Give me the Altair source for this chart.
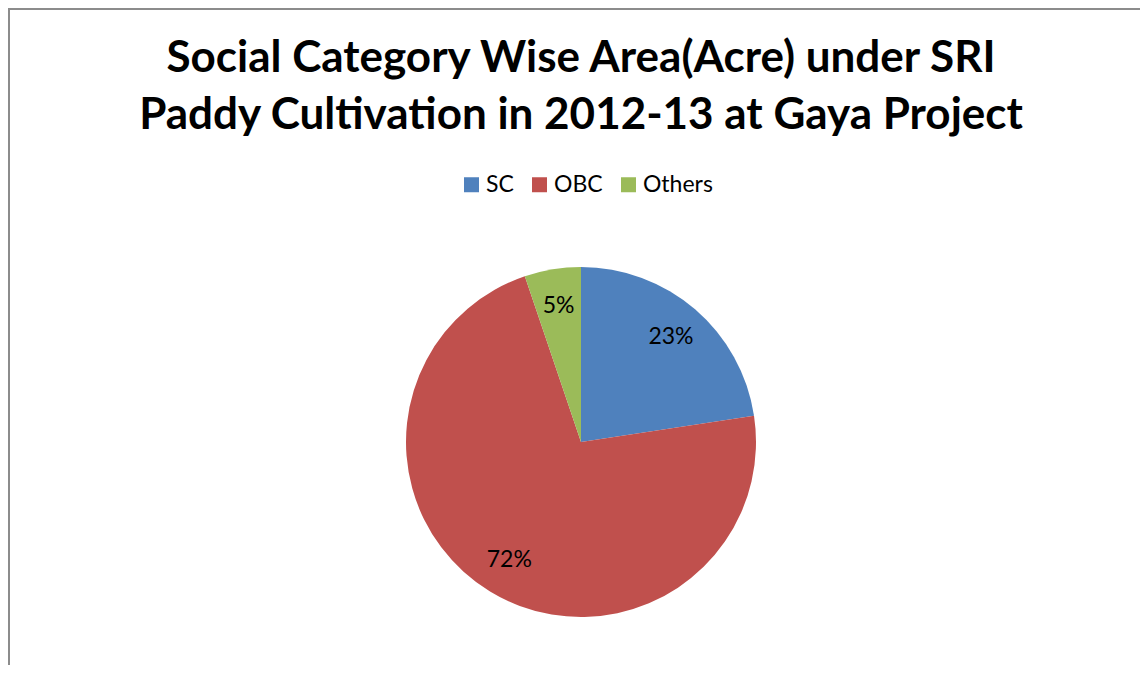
import altair as alt
import pandas as pd

categories = ["SC", "OBC", "Others"]
shares = [22.6, 72.2, 5.2]
labels = ["23%", "72%", "5%"]
colors = ["#4F81BD", "#C0504D", "#9BBB59"]
order = [0, 1, 2]

title_lines = [
    "Social Category Wise Area(Acre) under SRI",
    "Paddy Cultivation in 2012-13 at Gaya Project",
]

df = pd.DataFrame({"category": categories, "share": shares, "label": labels, "order": order})

T = 140
W = 1132
H = 657 - T
cx = 581 - 8
cy = 442 - 8 - T
R = 175

base = alt.Chart(df).encode(
    theta=alt.Theta("share:Q", stack=True),
    order=alt.Order("order:Q"),
)

pie = base.mark_arc(outerRadius=R).encode(
    color=alt.Color(
        "category:N",
        scale=alt.Scale(domain=categories, range=colors),
        legend=alt.Legend(
            orient="none",
            legendX=452,
            legendY=25,
            direction="horizontal",
            title=None,
            symbolType="square",
            symbolSize=225,
            symbolStrokeWidth=0,
            labelFontSize=23,
            labelFont="Lato",
            labelColor="#000000",
            labelOffset=3,
            columnPadding=14,
        ),
    ),
    x=alt.value(cx),
    y=alt.value(cy),
)

text = base.mark_text(radius=138, fontSize=23, font="Lato", color="#000000").encode(
    text="label:N",
    x=alt.value(cx),
    y=alt.value(cy),
)

border_df = pd.DataFrame({"b": [0]})
border = alt.Chart(border_df).mark_rect(fillOpacity=0, stroke="#8c8c8c", strokeWidth=2).encode(
    x=alt.value(1),
    x2=alt.value(W + 20),
    y=alt.value(-T + 1),
    y2=alt.value(H + 30),
)

chart = alt.layer(border, pie, text).properties(
    width=W,
    height=H,
    padding={"top": T, "left": 0, "right": 0, "bottom": 0},
    autosize=alt.AutoSizeParams(type="none"),
    title=alt.Title(
        title_lines,
        fontSize=44,
        font="Lato",
        fontWeight="bold",
        color="#000000",
        anchor="middle",
        lineHeight=57,
        dx=7,
        dy=150,
        offset=20,
    ),
).configure_view(stroke=None)

chart.save("out.html", embed_options={"renderer": "svg", "actions": False})
